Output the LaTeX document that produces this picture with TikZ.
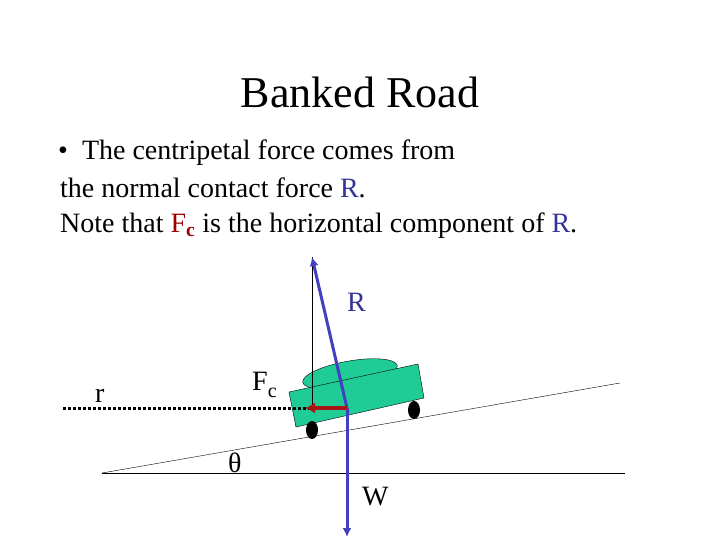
\documentclass[tikz,border=0pt]{standalone}
\usepackage{fontspec}
\usetikzlibrary{arrows.meta}
\setmainfont{Liberation Serif}
\begin{document}
\begin{tikzpicture}[x=1pt,y=-1pt,
  txt/.style={anchor=base west,inner sep=0pt,font=\fontsize{28}{32}\selectfont},
  force/.style={line width=3pt,color={rgb,255:red,64;green,64;blue,192},-{Latex[length=9pt,width=9pt]}}]
\useasboundingbox (0,0) rectangle (720,540);
\node[anchor=base,font=\fontsize{44}{50}\selectfont] (title) at (360,108) {Banked Road};
\node[txt] (l1) at (58,160) {\textbullet\ \ The centripetal force comes from};
\node[txt] (l2) at (60,197) {the normal contact force \textcolor[RGB]{51,51,153}{R}.};
\node[txt] (l3) at (60,233) {Note that \textcolor[RGB]{153,0,0}{F\textsubscript{\textbf{c}}} is the horizontal component of \textcolor[RGB]{51,51,153}{R}.};
% ground
\coordinate (g0) at (102,473); \coordinate (g1) at (625,473); \coordinate (s1) at (620,383);
\draw[thin] (g0) -- (g1); \draw[thin] (g0) -- (s1);
% car
\fill[fill={rgb,255:red,32;green,204;blue,150},draw=black] (350,374) ellipse [x radius=48, y radius=13, rotate=10];
\draw[fill={rgb,255:red,32;green,204;blue,150}] (289,392) -- (418,364) -- (424,398) -- (296,427) -- cycle;
\fill (312,430) ellipse [x radius=6, y radius=9];
\fill (414,410) ellipse [x radius=6, y radius=9];
\coordinate (c) at (347,408);
\coordinate (top) at (312,257);
\coordinate (bot) at (347,537);
\coordinate (dl) at (63,408);
\coordinate (fc) at (305,408);
\draw[thin] (312,408) -- (top);
\draw[line width=3pt,dotted] (dl) -- (c);
\draw[force] (c) -- (top);
\draw[force] (c) -- (bot);
\draw[line width=3.5pt,color={rgb,255:red,170;green,20;blue,20},-{Latex[length=10pt,width=11pt]}] (c) -- (fc);
\node[txt] (R) at (347,311) {\textcolor[RGB]{51,51,153}{R}};
\node[txt] (F) at (252,390) {F\raisebox{-7pt}{\fontsize{20}{24}\selectfont c}};
\node[txt] (r) at (95,402) {r};
\node[txt] (th) at (228,472) {θ};
\node[txt] (W) at (362,505) {W};
\end{tikzpicture}
\end{document}
